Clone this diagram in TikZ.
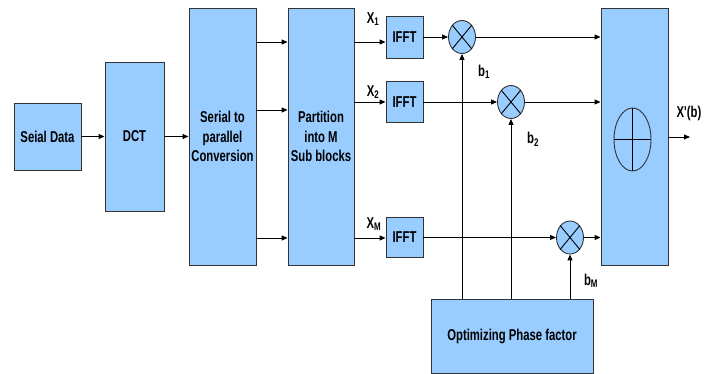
\documentclass[tikz,border=0pt]{standalone}
\usepackage{fontspec}
\newfontfamily\blockfont[FakeStretch=0.72]{Liberation Sans}
\usetikzlibrary{arrows.meta,shapes.geometric}

\definecolor{blockblue}{RGB}{153,204,255}

\begin{document}
\begin{tikzpicture}[x=1pt,y=-1pt]

    % Define styles
    \tikzset{
        block/.style={draw=black!80, fill=blockblue, line width=0.9pt, inner sep=0pt,
            align=center, font=\blockfont\bfseries\fontsize{15.7}{19.5}\selectfont},
        mixer/.style={ellipse, draw=black!80, fill=blockblue, line width=0.9pt,
            minimum width=27pt, minimum height=33pt, inner sep=0pt},
        flow/.style={-{Triangle[length=6pt,width=5pt]}, line width=0.9pt},
        tag/.style={font=\blockfont\bfseries\fontsize{15.7}{17}\selectfont}
    }

    \useasboundingbox (0,0) rectangle (710,374);

    % Row heights of the parallel branches
    \coordinate (p1) at (0,42);
    \coordinate (p2) at (0,110);
    \coordinate (p3) at (0,238);
    \coordinate (q1) at (0,42);
    \coordinate (q2) at (0,102);
    \coordinate (q3) at (0,238);
    \coordinate (out) at (690,137);

    % Serial chain
    \node[block, minimum width=67pt, minimum height=67pt] (data) at (47.5,136.5) {Seial Data};
    \node[block, minimum width=59pt, minimum height=149pt] (dct) at (134.5,136.5) {DCT};
    \node[block, minimum width=67pt, minimum height=257pt] (s2p) at (222.5,136.5) {Serial to\\parallel\\Conversion};
    \node[block, minimum width=66pt, minimum height=257pt] (part) at (321,136.5) {Partition\\into M\\Sub blocks};

    % IFFT blocks
    \node[block, minimum width=37pt, minimum height=42pt] (ifft1) at (404.5,37) {IFFT};
    \node[block, minimum width=37pt, minimum height=41pt] (ifft2) at (404.5,102) {IFFT};
    \node[block, minimum width=37pt, minimum height=40pt] (ifft3) at (404.5,237.5) {IFFT};

    % Phase multipliers
    \node[mixer] (m1) at (462,37) {};
    \node[mixer] (m2) at (511,102) {};
    \node[mixer] (m3) at (570,237.5) {};
    \foreach \k in {1,2,3} {
        \draw[line width=0.9pt] (m\k.north east) -- (m\k.south west);
        \draw[line width=0.9pt] (m\k.north west) -- (m\k.south east);
    }

    % Combiner and phase optimizer
    \node[block, minimum width=67pt, minimum height=257pt] (sum) at (634.5,136.5) {};
    \node[ellipse, draw=black!80, line width=0.9pt, minimum width=37pt, minimum height=63pt,
        inner sep=0pt] (sigma) at (632.5,139.5) {};
    \draw[line width=0.9pt] (sigma.north) -- (sigma.south);
    \draw[line width=0.9pt] (sigma.west) -- (sigma.east);
    \node[block, minimum width=162pt, minimum height=74pt] (opt) at (512,336) {Optimizing Phase factor};

    % Connections
    \draw[flow] (data) -- (dct);
    \draw[flow] (dct) -- (s2p);
    \foreach \k in {1,2,3} {
        \draw[flow] (s2p.east |- p\k) -- (part.west |- p\k);
        \draw[flow] (part.east |- q\k) -- (ifft\k.west |- q\k);
        \draw[flow] (ifft\k) -- (m\k);
        \draw[flow] (m\k) -- (sum.west |- m\k);
        \draw[flow] (opt.north -| m\k) -- (m\k);
    }
    \draw[flow] (sum.east |- out) -- (out);

    % Signal labels
    \node[tag] (x1) at (373,19) {X\textsubscript{1}};
    \node[tag] (x2) at (373,92) {X\textsubscript{2}};
    \node[tag] (xm) at (374,224) {X\textsubscript{M}};
    \node[tag] (b1) at (484,72) {b\textsubscript{1}};
    \node[tag] (b2) at (533,139) {b\textsubscript{2}};
    \node[tag] (bm) at (591,281) {b\textsubscript{M}};
    \node[tag] (xb) at (689,113) {X'(b)};

\end{tikzpicture}
\end{document}
